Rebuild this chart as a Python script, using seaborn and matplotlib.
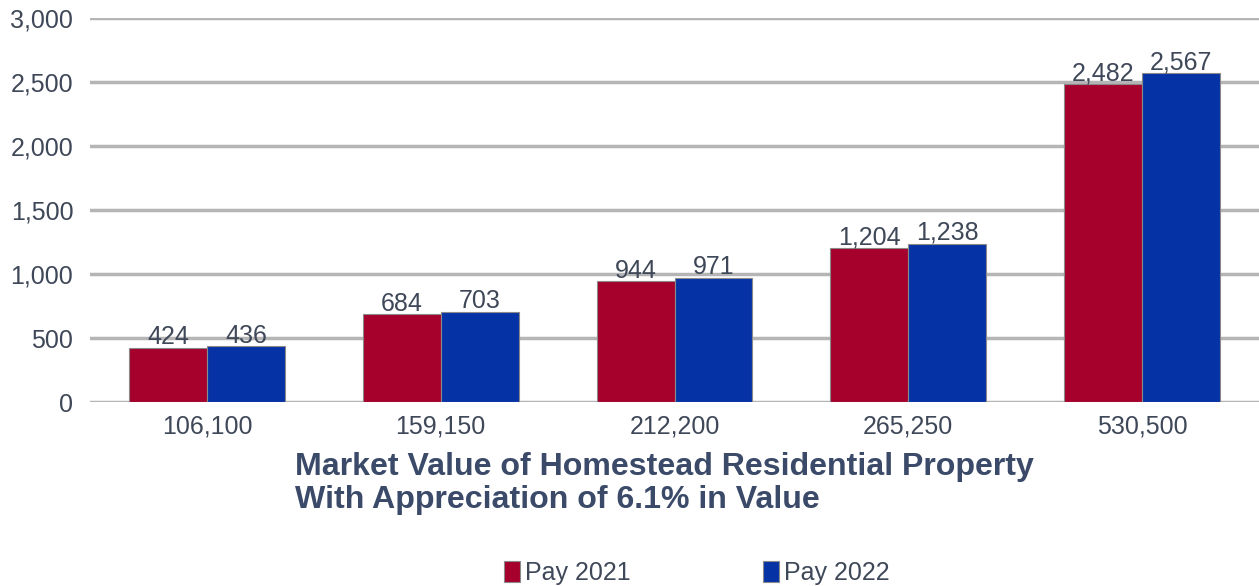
import pandas as pd
import matplotlib.pyplot as plt
import seaborn as sns

# Chart data
market_values = ['106,100', '159,150', '212,200', '265,250', '530,500']
pay_2021 = [424, 684, 944, 1204, 2482]
pay_2022 = [436, 703, 971, 1238, 2567]
series_names = ['Pay 2021', 'Pay 2022']

df = pd.DataFrame({
    'value': market_values * 2,
    'tax': pay_2021 + pay_2022,
    'year': [series_names[0]] * 5 + [series_names[1]] * 5,
})

sns.set_style('white')
plt.rcParams['font.family'] = ['Liberation Sans', 'DejaVu Sans']

text_color = '#3f4858'
title_color = '#3a4a68'

fig = plt.figure(figsize=(12.59, 5.86), dpi=100)
ax = fig.add_axes([90 / 1259, 1 - 402 / 586, 1 - 90 / 1259, (402 - 18) / 586])

sns.barplot(data=df, x='value', y='tax', hue='year', order=market_values,
            palette=['#a6002c', '#0533a6'], width=0.667, ax=ax,
            edgecolor='#8a8a8a', linewidth=0.8, saturation=1)

ax.set_ylim(0, 3000)
ax.set_xlim(-0.5, 4.5)
ax.set_yticks(range(0, 3001, 500))
ax.set_yticklabels([f'{v:,}' for v in range(0, 3001, 500)])
ax.yaxis.grid(True, color='#b5b5b5', linewidth=2.5)
ax.set_axisbelow(True)
sns.despine(ax=ax, left=True, bottom=True)
ax.tick_params(axis='both', length=0, labelsize=18, labelcolor=text_color)
ax.tick_params(axis='y', pad=12)
ax.tick_params(axis='x', pad=9)
ax.set_ylabel('')

# Value labels
for container in ax.containers:
    ax.bar_label(container, labels=[f'{v:,.0f}' for v in container.datavalues],
                 fontsize=18, color=text_color, padding=-1)

ax.set_xlabel('Market Value of Homestead Residential Property\nWith Appreciation of 6.1% in Value',
              fontsize=23.1, fontweight='bold', color=title_color,
              ha='left', multialignment='left', linespacing=1.15)
ax.xaxis.set_label_coords(205 / 1169, -0.13)

ax.legend(loc='upper center', bbox_to_anchor=(0.519, -0.355), ncol=2, frameon=False,
          fontsize=18, handlelength=0.65, handleheight=0.9, handletextpad=0.2,
          columnspacing=5.3, labelcolor=text_color)

plt.savefig('out.png', dpi=100)
